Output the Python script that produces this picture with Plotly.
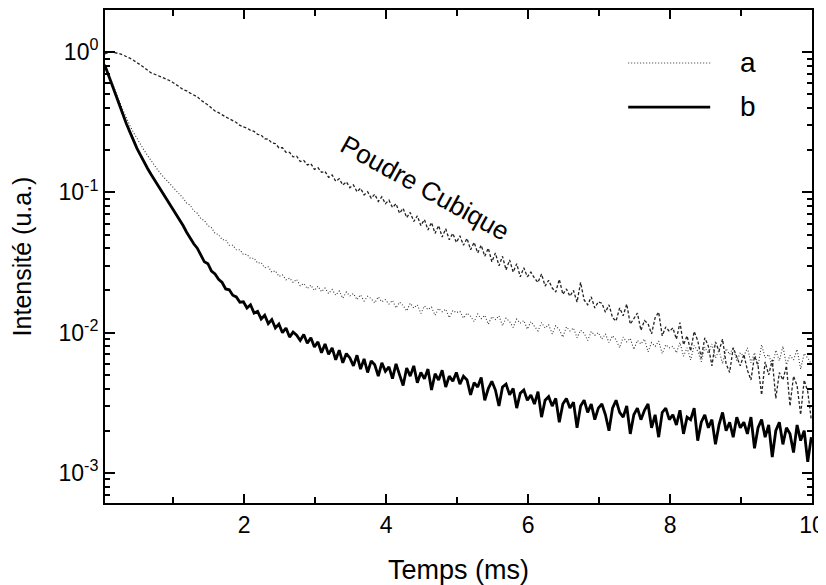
import plotly.graph_objects as go

# ---- data ----
time_start = 0.04   # ms
time_step = 0.05    # ms
n_points = 200
temps = [round(time_start + time_step * i, 2) for i in range(n_points)]

poudre_cubique = [
    0.97, 1.00, 1.00, 0.99, 0.975, 0.955, 0.935, 0.905, 0.875, 0.845,
    0.81, 0.775, 0.74, 0.71, 0.695, 0.68, 0.665, 0.645, 0.63, 0.61,
    0.59, 0.565, 0.54, 0.53, 0.51, 0.495, 0.48, 0.455, 0.44, 0.42,
    0.40, 0.38, 0.37, 0.355, 0.345, 0.335, 0.325, 0.315, 0.30, 0.295,
    0.287, 0.277, 0.272, 0.259, 0.256, 0.241, 0.240, 0.225, 0.223, 0.208,
    0.208, 0.193, 0.193, 0.179, 0.181, 0.166, 0.169, 0.157, 0.160, 0.146,
    0.150, 0.139, 0.141, 0.128, 0.133, 0.120, 0.125, 0.113, 0.119, 0.108,
    0.113, 0.101, 0.107, 0.096, 0.101, 0.091, 0.097, 0.086, 0.093, 0.083,
    0.088, 0.078, 0.083, 0.071, 0.077, 0.066, 0.072, 0.062, 0.068, 0.058,
    0.064, 0.054, 0.061, 0.051, 0.058, 0.048, 0.055, 0.046, 0.051, 0.044,
    0.049, 0.042, 0.047, 0.039, 0.044, 0.037, 0.042, 0.035, 0.040, 0.032,
    0.037, 0.030, 0.035, 0.028, 0.033, 0.027, 0.031, 0.025, 0.029, 0.025,
    0.0270, 0.0245, 0.0228, 0.0262, 0.0215, 0.0236, 0.0208, 0.0195, 0.0240, 0.0188,
    0.0205, 0.0182, 0.0200, 0.0165, 0.0228, 0.0171, 0.0158, 0.0180, 0.0150, 0.0166,
    0.0162, 0.0140, 0.0158, 0.0128, 0.0121, 0.0150, 0.0132, 0.0160, 0.0115, 0.0126,
    0.0138, 0.0104, 0.0122, 0.0116, 0.0098, 0.0128, 0.0140, 0.0095, 0.0110, 0.0102,
    0.0108, 0.0090, 0.0118, 0.0082, 0.0095, 0.0074, 0.0102, 0.0088, 0.0066, 0.0092,
    0.0080, 0.0058, 0.0086, 0.0074, 0.0090, 0.0060, 0.0052, 0.0078, 0.0068, 0.0058,
    0.0070, 0.0054, 0.0046, 0.0068, 0.0058, 0.0036, 0.0062, 0.0050, 0.0064, 0.0034,
    0.0052, 0.0046, 0.0058, 0.0030, 0.0049, 0.0042, 0.0026, 0.0046, 0.0038, 0.0024,
]

serie_a = [
    0.82, 0.70, 0.60, 0.52, 0.45, 0.39, 0.34, 0.30, 0.268, 0.242,
    0.220, 0.200, 0.183, 0.168, 0.155, 0.143, 0.133, 0.125, 0.118, 0.111,
    0.104, 0.097, 0.091, 0.084, 0.081, 0.074, 0.071, 0.065, 0.063, 0.058,
    0.056, 0.051, 0.050, 0.046, 0.046, 0.042, 0.042, 0.039, 0.039, 0.036,
    0.0362, 0.0338, 0.0340, 0.0313, 0.0316, 0.0290, 0.0295, 0.0270, 0.0276, 0.0252,
    0.0258, 0.0238, 0.0245, 0.0228, 0.0240, 0.0216, 0.0224, 0.0206, 0.0218, 0.0200,
    0.0214, 0.0196, 0.0208, 0.0190, 0.0203, 0.0185, 0.0198, 0.0176, 0.0195, 0.0183,
    0.0190, 0.0172, 0.0186, 0.0168, 0.0182, 0.0175, 0.0163, 0.0180, 0.0166, 0.0172,
    0.0160, 0.0170, 0.0150, 0.0165, 0.0156, 0.0143, 0.0162, 0.0150, 0.0158, 0.0137,
    0.0155, 0.0146, 0.0152, 0.0133, 0.0149, 0.0141, 0.0147, 0.0128, 0.0144, 0.0139,
    0.0142, 0.0127, 0.0138, 0.0131, 0.0120, 0.0136, 0.0126, 0.0133, 0.0115, 0.0130,
    0.0124, 0.0132, 0.0112, 0.0127, 0.0120, 0.0109, 0.0125, 0.0117, 0.0122, 0.0106,
    0.0120, 0.0111, 0.0103, 0.0118, 0.0108, 0.0114, 0.0098, 0.0112, 0.0105, 0.0093,
    0.0110, 0.0103, 0.0108, 0.0092, 0.0104, 0.0099, 0.0088, 0.0102, 0.0096, 0.0100,
    0.0090, 0.0098, 0.0085, 0.0095, 0.0089, 0.0078, 0.0093, 0.0086, 0.0091, 0.0076,
    0.0088, 0.0083, 0.0090, 0.0073, 0.0085, 0.0080, 0.0087, 0.0071, 0.0082, 0.0078,
    0.0080, 0.0072, 0.0085, 0.0068, 0.0078, 0.0064, 0.0081, 0.0074, 0.0062, 0.0079,
    0.0071, 0.0083, 0.0066, 0.0075, 0.0060, 0.0077, 0.0070, 0.0079, 0.0063, 0.0072,
    0.0068, 0.0078, 0.0061, 0.0072, 0.0058, 0.0082, 0.0066, 0.0070, 0.0057, 0.0075,
    0.0063, 0.0080, 0.0059, 0.0069, 0.0064, 0.0076, 0.0055, 0.0071, 0.0066, 0.0060,
]

serie_b = [
    0.80, 0.68, 0.58, 0.50, 0.42, 0.36, 0.31, 0.27, 0.234, 0.206,
    0.184, 0.164, 0.148, 0.134, 0.122, 0.111, 0.102, 0.093, 0.085, 0.078,
    0.071, 0.064, 0.058, 0.052, 0.047, 0.043, 0.040, 0.036, 0.032, 0.031,
    0.0275, 0.0262, 0.0240, 0.0228, 0.0205, 0.0202, 0.0185, 0.0180, 0.0165, 0.0166,
    0.0150, 0.0158, 0.0138, 0.0142, 0.0125, 0.0133, 0.0116, 0.0124, 0.0108, 0.0115,
    0.0100, 0.0108, 0.0093, 0.0101, 0.0096, 0.0088, 0.0097, 0.0084, 0.0092, 0.0079,
    0.0086, 0.0072, 0.0083, 0.0070, 0.0078, 0.0064, 0.0075, 0.0061, 0.0071, 0.0066,
    0.0058, 0.0069, 0.0055, 0.0065, 0.0052, 0.0063, 0.0059, 0.0049, 0.0061, 0.0053,
    0.0057, 0.0047, 0.0060, 0.0050, 0.0042, 0.0056, 0.0049, 0.0058, 0.0044, 0.0052,
    0.0047, 0.0055, 0.0039, 0.0051, 0.0046, 0.0054, 0.0041, 0.0049, 0.0045, 0.0052,
    0.0043, 0.0049, 0.0046, 0.0036, 0.0044, 0.0041, 0.0048, 0.0033, 0.0040, 0.0045,
    0.0039, 0.0030, 0.0041, 0.0043, 0.0036, 0.0040, 0.0029, 0.0037, 0.0039, 0.0033,
    0.0036, 0.0031, 0.0038, 0.0025, 0.0033, 0.0035, 0.0030, 0.0034, 0.0023, 0.0031,
    0.0034, 0.0029, 0.0032, 0.0021, 0.0030, 0.0033, 0.0027, 0.0031, 0.0024, 0.0029,
    0.0031, 0.0026, 0.0020, 0.0029, 0.0033, 0.0027, 0.0025, 0.0030, 0.0019, 0.0026,
    0.0029, 0.0024, 0.0028, 0.0031, 0.0021, 0.0026, 0.0018, 0.0027, 0.0029, 0.0024,
    0.0026, 0.0022, 0.0028, 0.0019, 0.0025, 0.0024, 0.0029, 0.0017, 0.0023, 0.0026,
    0.0021, 0.0024, 0.0016, 0.0022, 0.0027, 0.0020, 0.0023, 0.0018, 0.0025, 0.0021,
    0.0023, 0.0019, 0.0025, 0.0015, 0.0021, 0.0024, 0.0018, 0.0022, 0.0013, 0.0020,
    0.0023, 0.0016, 0.0021, 0.0019, 0.0014, 0.0022, 0.0017, 0.0020, 0.0012, 0.0018,
]

x_ticks = [2, 4, 6, 8, 10]
x_minor = [1, 3, 5, 7, 9]
y_ticks = [1e-3, 1e-2, 1e-1, 1]
y_ticktext = ["10<sup>-3</sup>", "10<sup>-2</sup>", "10<sup>-1</sup>", "10<sup>0</sup>"]
y_minor = [m * 10 ** e for e in (-4, -3, -2, -1) for m in range(2, 10)] + [2]

label_pc = "Poudre Cubique"
label_a = "a"
label_b = "b"

FONT = "Liberation Sans, Arial, sans-serif"

fig = go.Figure()
fig.add_trace(go.Scatter(x=temps, y=poudre_cubique, mode="lines", name=label_pc,
                         line=dict(color="#222222", width=1.3, dash="3px,2px"),
                         showlegend=False))
fig.add_trace(go.Scatter(x=temps, y=serie_a, mode="lines", name=label_a,
                         line=dict(color="#333333", width=1.1, dash="1px,2px"),
                         showlegend=False))
fig.add_trace(go.Scatter(x=temps, y=serie_b, mode="lines", name=label_b,
                         line=dict(color="black", width=2.8),
                         showlegend=False))

# the page body has an 8 px margin, so the figure is sized and offset to compensate
fig.update_layout(
    width=818, height=577,
    margin=dict(l=97, r=14, t=2, b=82),
    paper_bgcolor="white", plot_bgcolor="white",
    font=dict(family=FONT, color="black", size=23),
    showlegend=False,
    xaxis=dict(
        showline=True, linecolor="black", linewidth=2, mirror="ticks",
        ticks="inside", tickcolor="black", tickwidth=1.5, ticklen=9,
        showgrid=False, zeroline=False, automargin=False,
        tickfont=dict(family=FONT, size=23, color="black"),
        range=[0.04, 10], tickmode="array", tickvals=x_ticks,
        minor=dict(ticks="inside", tickvals=x_minor, ticklen=6, tickwidth=1.5,
                   tickcolor="black", showgrid=False),
        title=dict(text="Temps (ms)", font=dict(family=FONT, size=27, color="black"), standoff=28),
    ),
    yaxis=dict(
        showline=True, linecolor="black", linewidth=2, mirror="ticks",
        ticks="inside", tickcolor="black", tickwidth=1.5, ticklen=10,
        showgrid=False, zeroline=False, automargin=False,
        tickfont=dict(family=FONT, size=23, color="black"),
        type="log", range=[-3.214, 0.30],
        tickmode="array", tickvals=y_ticks, ticktext=y_ticktext,
        minor=dict(ticks="inside", tickvals=y_minor, ticklen=5, tickwidth=1.5,
                   tickcolor="black", showgrid=False),
        title=dict(text="Intensité (u.a.)", font=dict(family=FONT, size=25, color="black"), standoff=20),
    ),
    annotations=[
        dict(x=4.55, y=-0.97, xref="x", yref="y", text=label_pc, showarrow=False,
             xanchor="center", yanchor="middle",
             textangle=29, font=dict(family=FONT, size=26, color="black")),
        dict(x=0.909, y=0.8925, xref="paper", yref="paper", text=label_a, showarrow=False,
             xanchor="center", yanchor="middle",
             font=dict(family=FONT, size=28, color="black")),
        dict(x=0.909, y=0.805, xref="paper", yref="paper", text=label_b, showarrow=False,
             xanchor="center", yanchor="middle",
             font=dict(family=FONT, size=28, color="black")),
    ],
    shapes=[
        dict(type="line", xref="paper", yref="paper", x0=0.740, x1=0.856, y0=0.8925, y1=0.8925,
             line=dict(color="#333333", width=1.1, dash="1px,2px")),
        dict(type="line", xref="paper", yref="paper", x0=0.740, x1=0.856, y0=0.803, y1=0.803,
             line=dict(color="black", width=2.8)),
    ],
)

fig.write_html("out.html")
